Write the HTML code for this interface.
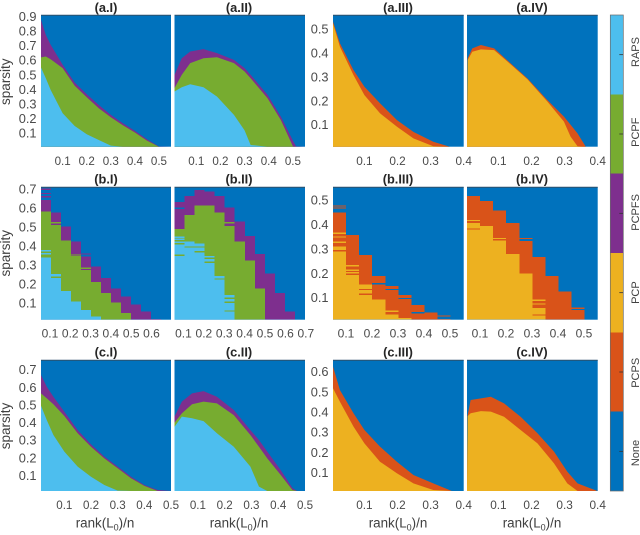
<!DOCTYPE html>
<html lang="en">
<head>
<meta charset="utf-8">
<title>Phase transition panels</title>
<style>
html,body{margin:0;padding:0;background:#fff;}
svg{display:block;font-family:"Liberation Sans",sans-serif;}
.ttl{font-size:12.8px;font-weight:bold;fill:#262626;text-anchor:middle;}
.xl{font-size:13.4px;fill:#404040;text-anchor:middle;}
.yl{font-size:13.5px;fill:#404040;text-anchor:middle;}
.cl{font-size:11px;fill:#404040;text-anchor:middle;}
.tk{fill:#4a4a4a;}
</style>
</head>
<body>
<svg id="chart" xmlns="http://www.w3.org/2000/svg" width="640" height="535" viewBox="0 0 640 535">
  <rect x="0" y="0" width="640" height="535" fill="#ffffff"/>
  <g id="panels"></g>
  <g id="colorbar"></g>

  <text class="ttl" x="106" y="12">(a.I)</text>
  <text class="ttl" x="239" y="12">(a.II)</text>
  <text class="ttl" x="398" y="12">(a.III)</text>
  <text class="ttl" x="532" y="12">(a.IV)</text>
  <text class="ttl" x="106" y="183.5">(b.I)</text>
  <text class="ttl" x="239" y="183.5">(b.II)</text>
  <text class="ttl" x="398" y="183.5">(b.III)</text>
  <text class="ttl" x="532" y="183.5">(b.IV)</text>
  <text class="ttl" x="106" y="356.5">(c.I)</text>
  <text class="ttl" x="239" y="356.5">(c.II)</text>
  <text class="ttl" x="398" y="356.5">(c.III)</text>
  <text class="ttl" x="532" y="356.5">(c.IV)</text>

  <text class="yl" transform="translate(10 81.7) rotate(-90)">sparsity</text>
  <text class="yl" transform="translate(10 253.3) rotate(-90)">sparsity</text>
  <text class="yl" transform="translate(10 426) rotate(-90)">sparsity</text>

  <text class="xl" x="105" y="527.5">rank(L<tspan font-size="9" dy="3">0</tspan><tspan dy="-3">)/n</tspan></text>
  <text class="xl" x="239" y="527.5">rank(L<tspan font-size="9" dy="3">0</tspan><tspan dy="-3">)/n</tspan></text>
  <text class="xl" x="398" y="527.5">rank(L<tspan font-size="9" dy="3">0</tspan><tspan dy="-3">)/n</tspan></text>
  <text class="xl" x="532" y="527.5">rank(L<tspan font-size="9" dy="3">0</tspan><tspan dy="-3">)/n</tspan></text>
</svg>

<script>
// ---------- tick labels ----------
const aLeftXTicks = ['0.1','0.2','0.3','0.4','0.5'];
const aLeftYTicks = ['0.1','0.2','0.3','0.4','0.5','0.6','0.7','0.8','0.9'];
const aRightXTicks = ['0.1','0.2','0.3','0.4'];
const aRightYTicks = ['0.1','0.2','0.3','0.4','0.5'];
const bIXTicks = ['0.1','0.2','0.3','0.4','0.5','0.6'];
const bIIXTicks = ['0.1','0.2','0.3','0.4','0.5','0.6','0.7'];
const bLeftYTicks = ['0.1','0.2','0.3','0.4','0.5','0.6','0.7'];
const bRightXTicks = ['0.1','0.2','0.3','0.4','0.5'];
const bRightYTicks = ['0.1','0.2','0.3','0.4','0.5'];
const cLeftXTicks = ['0.1','0.2','0.3','0.4','0.5'];
const cLeftYTicks = ['0.1','0.2','0.3','0.4','0.5','0.6','0.7'];
const cRightXTicks = ['0.1','0.2','0.3','0.4'];
const cRightYTicks = ['0.1','0.2','0.3','0.4','0.5','0.6'];

// ---------- colorbar categories (bottom to top) ----------
const methodLabels = ['None','PCPS','PCP','PCPFS','PCPF','RAPS'];
const methodKeys = ['none','pcps','pcp','pcpfs','pcpf','raps'];

// ---------- panel a.I ----------
const aI_rank = [0.01,0.03,0.05,0.1,0.15,0.2,0.25,0.3,0.35,0.4,0.45,0.5,0.55];
const aI_pcpfs = [0.877,0.774,0.706,0.569,0.447,0.367,0.294,0.226,0.169,0.116,0.059,0.009,0];
const aI_pcpf = [0.62,0.626,0.607,0.546,0.425,0.347,0.271,0.21,0.155,0.105,0.05,0.005,0];
const aI_raps = [0.55,0.477,0.397,0.237,0.15,0.093,0.054,0.015,0,0,0,0,0];
// ---------- panel a.II ----------
const aII_rank = [0.01,0.04,0.075,0.13,0.186,0.256,0.3,0.325,0.395,0.45,0.5,0.513,0.55];
const aII_pcpfs = [0.5,0.614,0.66,0.676,0.649,0.603,0.546,0.5,0.363,0.214,0.05,0.01,0];
const aII_pcpf = [0.409,0.5,0.58,0.614,0.621,0.58,0.523,0.477,0.34,0.191,0.01,0,0];
const aII_raps = [0.386,0.415,0.436,0.415,0.351,0.226,0.12,0.02,0,0,0,0,0];
// ---------- panel a.III ----------
const aIII_rank = [0.005,0.026,0.067,0.1,0.147,0.198,0.248,0.308,0.358,0.4];
const aIII_pcps = [0.532,0.441,0.329,0.259,0.19,0.12,0.07,0.029,0.008,0];
const aIII_pcp = [0.525,0.427,0.308,0.224,0.148,0.092,0.043,0.01,0,0];
// ---------- panel a.IV ----------
const aIV_rank = [0.007,0.021,0.047,0.087,0.137,0.188,0.248,0.298,0.318,0.339,0.364,0.4];
const aIV_pcps = [0.378,0.42,0.434,0.42,0.357,0.294,0.203,0.134,0.1,0.064,0.008,0];
const aIV_pcp = [0.371,0.406,0.416,0.413,0.353,0.29,0.197,0.113,0.05,0.01,0,0];

// ---------- panel b.I (stepped, 13 rank bins) ----------
const bI_bins = ['b1','b2','b3','b4','b5','b6','b7','b8','b9','b10','b11','b12','b13'];
const bI_pcpfs = [0.644,0.579,0.504,0.425,0.345,0.293,0.232,0.179,0.135,0.095,0.056,0.018,0];
const bI_pcpf = [0.582,0.512,0.43,0.349,0.275,0.211,0.153,0.105,0.049,0,0,0,0];
const bI_raps = [0.34,0.253,0.165,0.109,0.065,0.03,0,0,0,0,0,0,0];
const bI_stripeBin = [0,0,0,0,0,1,1,3,4,4];
const bI_stripeValue = [0.7,0.678,0.66,0.377,0.36,0.524,0.237,0.354,0.359,0.284];
const bI_stripeKind = ['pcpfs','pcpfs','pcpfs','raps','raps','pcpf','pcpf','pcpf','pcpfs','pcpf'];
// ---------- panel b.II ----------
const bII_bins = ['b1','b2','b3','b4','b5','b6','b7','b8','b9','b10','b11','b12','b13'];
const bII_pcpfs = [0.632,0.665,0.695,0.688,0.665,0.605,0.53,0.454,0.36,0.258,0.153,0.056,0];
const bII_pcpf = [0.491,0.565,0.614,0.614,0.579,0.508,0.424,0.324,0.179,0,0,0,0];
const bII_raps = [0.41,0.424,0.416,0.35,0.245,0.144,0,0,0,0,0,0,0];
const bII_stripeBin = [0,0,0,0,0,1,2,2,3,3,4,5,5,5,5];
const bII_stripeValue = [0.6,0.447,0.437,0.421,0.353,0.396,0.396,0.372,0.337,0.316,0.228,0.126,0.105,0.06,0.524];
const bII_stripeKind = ['none','raps','raps','raps','pcpf','pcpf','pcpf','pcpf','pcpf','pcpf','pcpf','pcpf','pcpf','pcpf','pcpf'];
// ---------- panel b.III (stepped, 10 rank bins) ----------
const bIII_bins = ['b1','b2','b3','b4','b5','b6','b7','b8','b9','b10'];
const bIII_pcps = [0.45,0.357,0.275,0.189,0.148,0.111,0.07,0.04,0.012,0];
const bIII_pcp = [0.31,0.193,0.155,0.093,0.032,0.016,0,0,0,0];
const bIII_stripeBin = [0,0,0,0,0,0,1,1,1,2,2,3,4,4,5,6,8];
const bIII_stripeValue = [0.476,0.468,0.364,0.349,0.328,0.293,0.231,0.213,0.202,0.134,0.114,0.158,0.134,0.045,0.097,0.039,0.025];
const bIII_stripeKind = ['pcps','pcps','pcp','pcp','pcp','pcps','pcp','pcp','pcp','pcps','pcps','none','none','pcp','none','none','pcps'];
// ---------- panel b.IV ----------
const bIV_bins = ['b1','b2','b3','b4','b5','b6','b7','b8','b9','b10'];
const bIV_pcps = [0.517,0.496,0.457,0.407,0.332,0.268,0.189,0.125,0.05,0];
const bIV_pcp = [0.407,0.395,0.334,0.28,0.2,0.059,0,0,0,0];
const bIV_stripeBin = [0,0,2,4,5,5,5,8];
const bIV_stripeValue = [0.417,0.382,0.343,0.343,0.09,0.074,0.029,0.057];
const bIV_stripeKind = ['pcp','pcps','pcp','pcps','pcp','pcp','pcps','pcps'];

// ---------- panel c.I ----------
const cI_rank = [0.0125,0.034,0.059,0.1,0.15,0.2,0.25,0.3,0.35,0.4,0.45,0.5];
const cI_pcpfs = [0.67,0.604,0.547,0.462,0.358,0.277,0.208,0.151,0.094,0.047,0.019,0];
const cI_pcpf = [0.566,0.538,0.504,0.438,0.34,0.264,0.198,0.142,0.085,0.042,0.012,0];
const cI_raps = [0.496,0.415,0.33,0.236,0.151,0.094,0.047,0.015,0,0,0,0];
// ---------- panel c.II ----------
const cII_rank = [0.0125,0.04,0.078,0.121,0.171,0.234,0.296,0.328,0.359,0.409,0.453,0.47,0.5];
const cII_pcpfs = [0.434,0.519,0.566,0.579,0.547,0.472,0.358,0.302,0.236,0.132,0.03,0,0];
const cII_pcpf = [0.4,0.453,0.504,0.519,0.509,0.443,0.33,0.264,0.198,0.104,0.019,0,0];
const cII_raps = [0.377,0.434,0.425,0.409,0.34,0.264,0.151,0.038,0,0,0,0,0];
// ---------- panel c.III ----------
const cIII_rank = [0.005,0.026,0.067,0.1,0.147,0.198,0.248,0.308,0.364,0.4];
const cIII_pcps = [0.625,0.509,0.394,0.311,0.229,0.154,0.088,0.047,0.009,0];
const cIII_pcp = [0.518,0.451,0.328,0.245,0.154,0.097,0.047,0.014,0,0];
// ---------- panel c.IV ----------
const cIV_rank = [0.007,0.016,0.047,0.077,0.117,0.167,0.218,0.268,0.308,0.339,0.399];
const cIV_pcps = [0.385,0.46,0.468,0.476,0.443,0.377,0.295,0.204,0.105,0.047,0.009];
const cIV_pcp = [0.38,0.394,0.405,0.402,0.377,0.311,0.245,0.146,0.047,0.009,0];

// ---------- styling and layout ----------
const NS = 'http://www.w3.org/2000/svg';
const colours = {none:'#0072BD',pcps:'#D95319',pcp:'#EDB120',pcpfs:'#7E2F8E',pcpf:'#77AC30',raps:'#4DBEEE'};

const colI = [41,171], colII = [174.5,305], colIII = [333,463.7], colIV = [467,597.7];
const rowA = [146.7,15], rowB = [319.7,187], rowC = [491,360];
const aLx = [0.01,0.55], aLy = [0.008,0.91], aRx = [0.005,0.4], aRy = [0.008,0.56];
const bLx = [0.056,0.696], bLy = [0.0137,0.712], bRx = [0.05,0.553], bRy = [0.01,0.554];
const cLx = [0.0125,0.5], cLy = [0.013,0.755], cRx = [0.005,0.4], cRy = [0.009,0.658];

const panelList = [
  {id:'a-I',col:colI,row:rowA,xd:aLx,yd:aLy,xt:aLeftXTicks,yt:aLeftYTicks,xb:165,fs:11.6,rank:aI_rank,layers:[['pcpfs',aI_pcpfs],['pcpf',aI_pcpf],['raps',aI_raps]]},
  {id:'a-II',col:colII,row:rowA,xd:aLx,yd:aLy,xt:aLeftXTicks,yt:null,xb:165,fs:11.6,rank:aII_rank,layers:[['pcpfs',aII_pcpfs],['pcpf',aII_pcpf],['raps',aII_raps]]},
  {id:'a-III',col:colIII,row:rowA,xd:aRx,yd:aRy,xt:aRightXTicks,yt:aRightYTicks,xb:165,fs:11.8,rank:aIII_rank,layers:[['pcps',aIII_pcps],['pcp',aIII_pcp]]},
  {id:'a-IV',col:colIV,row:rowA,xd:aRx,yd:aRy,xt:aRightXTicks,yt:null,xb:165,fs:11.8,rank:aIV_rank,layers:[['pcps',aIV_pcps],['pcp',aIV_pcp]]},
  {id:'b-I',col:colI,row:rowB,xd:bLx,yd:bLy,xt:bIXTicks,yt:bLeftYTicks,xb:337.7,fs:12,bins:bI_bins,layers:[['pcpfs',bI_pcpfs],['pcpf',bI_pcpf],['raps',bI_raps]],sb:bI_stripeBin,sv:bI_stripeValue,sk:bI_stripeKind},
  {id:'b-II',col:colII,row:rowB,xd:bLx,yd:bLy,xt:bIIXTicks,yt:null,xb:337.7,fs:12,bins:bII_bins,layers:[['pcpfs',bII_pcpfs],['pcpf',bII_pcpf],['raps',bII_raps]],sb:bII_stripeBin,sv:bII_stripeValue,sk:bII_stripeKind},
  {id:'b-III',col:colIII,row:rowB,xd:bRx,yd:bRy,xt:bRightXTicks,yt:bRightYTicks,xb:337.7,fs:12,bins:bIII_bins,layers:[['pcps',bIII_pcps],['pcp',bIII_pcp]],sb:bIII_stripeBin,sv:bIII_stripeValue,sk:bIII_stripeKind},
  {id:'b-IV',col:colIV,row:rowB,xd:bRx,yd:bRy,xt:bRightXTicks,yt:null,xb:337.7,fs:12,bins:bIV_bins,layers:[['pcps',bIV_pcps],['pcp',bIV_pcp]],sb:bIV_stripeBin,sv:bIV_stripeValue,sk:bIV_stripeKind},
  {id:'c-I',col:colI,row:rowC,xd:cLx,yd:cLy,xt:cLeftXTicks,yt:cLeftYTicks,xb:509,fs:11.6,rank:cI_rank,layers:[['pcpfs',cI_pcpfs],['pcpf',cI_pcpf],['raps',cI_raps]]},
  {id:'c-II',col:colII,row:rowC,xd:cLx,yd:cLy,xt:cLeftXTicks,yt:null,xb:509,fs:11.6,rank:cII_rank,layers:[['pcpfs',cII_pcpfs],['pcpf',cII_pcpf],['raps',cII_raps]]},
  {id:'c-III',col:colIII,row:rowC,xd:cRx,yd:cRy,xt:cRightXTicks,yt:cRightYTicks,xb:509,fs:11.8,rank:cIII_rank,layers:[['pcps',cIII_pcps],['pcp',cIII_pcp]]},
  {id:'c-IV',col:colIV,row:rowC,xd:cRx,yd:cRy,xt:cRightXTicks,yt:null,xb:509,fs:11.8,rank:cIV_rank,layers:[['pcps',cIV_pcps],['pcp',cIV_pcp]]}
];

function linear(domain, range) {
  return function (v) {
    return range[0] + (v - domain[0]) * (range[1] - range[0]) / (domain[1] - domain[0]);
  };
}

const panelsRoot = document.getElementById('panels');
const barRoot = document.getElementById('colorbar');

function drawAreaLayer(parent, p, key, values, xs, ys) {
  const pts = [];
  for (let i = 0; i < p.rank.length; i++) {
    const r = Math.min(Math.max(p.rank[i], p.xd[0]), p.xd[1]);
    const v = Math.max(values[i], p.yd[0]);
    pts.push(xs(r).toFixed(2) + ',' + ys(v).toFixed(2));
  }
  pts.push(p.col[1] + ',' + p.row[0]);
  pts.push(p.col[0] + ',' + p.row[0]);
  const el = document.createElementNS(NS, 'polygon');
  el.setAttribute('points', pts.join(' '));
  el.setAttribute('fill', colours[key]);
  
  
  parent.appendChild(el);
}

function drawStepLayer(parent, p, key, values, ys) {
  const w = (p.col[1] - p.col[0]) / p.bins.length;
  for (let i = 0; i < p.bins.length; i++) {
    if (values[i] <= p.yd[0]) continue;
    const y = ys(values[i]);
    const el = document.createElementNS(NS, 'rect');
    el.setAttribute('x', (p.col[0] + i * w).toFixed(2));
    el.setAttribute('y', y.toFixed(2));
    el.setAttribute('width', w.toFixed(2));
    el.setAttribute('height', (p.row[0] - y).toFixed(2));
    el.setAttribute('fill', colours[key]);
    el.setAttribute('shape-rendering', 'crispEdges');
    
    
    parent.appendChild(el);
  }
}

function drawStripes(parent, p, ys) {
  const w = (p.col[1] - p.col[0]) / p.bins.length;
  for (let i = 0; i < p.sb.length; i++) {
    const el = document.createElementNS(NS, 'rect');
    el.setAttribute('x', (p.col[0] + p.sb[i] * w).toFixed(2));
    el.setAttribute('y', (ys(p.sv[i]) - 0.65).toFixed(2));
    el.setAttribute('width', w.toFixed(2));
    el.setAttribute('height', '1.3');
    el.setAttribute('fill', colours[p.sk[i]]);
    el.setAttribute('shape-rendering', 'crispEdges');
    
    
    parent.appendChild(el);
  }
}

panelList.forEach(function (p) {
  const xs = linear(p.xd, p.col);
  const ys = linear(p.yd, p.row);

  const g = document.createElementNS(NS, 'g');
  
  
  panelsRoot.appendChild(g);

  const bg = document.createElementNS(NS, 'rect');
  bg.setAttribute('x', p.col[0]);
  bg.setAttribute('y', p.row[1]);
  bg.setAttribute('width', p.col[1] - p.col[0]);
  bg.setAttribute('height', p.row[0] - p.row[1]);
  bg.setAttribute('fill', colours.none);
  
  
  g.appendChild(bg);

  p.layers.forEach(function (layer) {
    if (p.bins) {
      drawStepLayer(g, p, layer[0], layer[1], ys);
    } else {
      drawAreaLayer(g, p, layer[0], layer[1], xs, ys);
    }
  });
  if (p.bins) drawStripes(g, p, ys);

  const top = document.createElementNS(NS, 'line');
  top.setAttribute('x1', p.col[0]);
  top.setAttribute('x2', p.col[1]);
  top.setAttribute('y1', p.row[1] + 0.3);
  top.setAttribute('y2', p.row[1] + 0.3);
  top.setAttribute('stroke', '#2b4f6b');
  top.setAttribute('stroke-width', '1');
  
  
  g.appendChild(top);

  p.xt.forEach(function (label) {
    const t = document.createElementNS(NS, 'text');
    t.setAttribute('x', xs(parseFloat(label)).toFixed(2));
    t.setAttribute('y', p.xb);
    t.setAttribute('text-anchor', 'middle');
    t.setAttribute('font-size', p.fs);
    t.setAttribute('class', 'tk');
    
    
    t.textContent = label;
    g.appendChild(t);
  });

  if (p.yt) {
    p.yt.forEach(function (label) {
      const t = document.createElementNS(NS, 'text');
      t.setAttribute('x', p.col[0] - 4.5);
      t.setAttribute('y', (ys(parseFloat(label)) + 4.4).toFixed(2));
      t.setAttribute('text-anchor', 'end');
      t.setAttribute('font-size', '12.8');
      t.setAttribute('class', 'tk');
      
      
      t.textContent = label;
      g.appendChild(t);
    });
  }
});

// ---------- colorbar ----------
const barX = [610.3, 623.3];
const barY = linear([0, methodKeys.length], [491, 15]);
const barLabelY = linear([0, methodKeys.length - 1], [453, 52]);
methodKeys.forEach(function (key, i) {
  const y1 = barY(i + 1);
  const y0 = barY(i);
  const seg = document.createElementNS(NS, 'rect');
  seg.setAttribute('x', barX[0]);
  seg.setAttribute('y', y1.toFixed(2));
  seg.setAttribute('width', barX[1] - barX[0]);
  seg.setAttribute('height', (y0 - y1).toFixed(2));
  seg.setAttribute('fill', colours[key]);
  seg.setAttribute('shape-rendering', 'crispEdges');
  
  
  barRoot.appendChild(seg);

  const yc = barY(i + 0.5);
  const tick = document.createElementNS(NS, 'line');
  tick.setAttribute('x1', barX[1] - 4);
  tick.setAttribute('x2', barX[1]);
  tick.setAttribute('y1', yc.toFixed(2));
  tick.setAttribute('y2', yc.toFixed(2));
  tick.setAttribute('stroke', '#333333');
  tick.setAttribute('stroke-width', '0.8');
  
  
  barRoot.appendChild(tick);

  const lab = document.createElementNS(NS, 'text');
  lab.setAttribute('transform', 'translate(639 ' + barLabelY(i).toFixed(2) + ') rotate(-90)');
  lab.setAttribute('class', 'cl');
  
  
  lab.textContent = methodLabels[i];
  barRoot.appendChild(lab);
});
const barFrame = document.createElementNS(NS, 'rect');
barFrame.setAttribute('x', barX[0]);
barFrame.setAttribute('y', 15);
barFrame.setAttribute('width', barX[1] - barX[0]);
barFrame.setAttribute('height', 476);
barFrame.setAttribute('fill', 'none');
barFrame.setAttribute('stroke', '#6a6a6a');
barFrame.setAttribute('stroke-width', '0.7');


barRoot.appendChild(barFrame);
</script>
</body>
</html>
